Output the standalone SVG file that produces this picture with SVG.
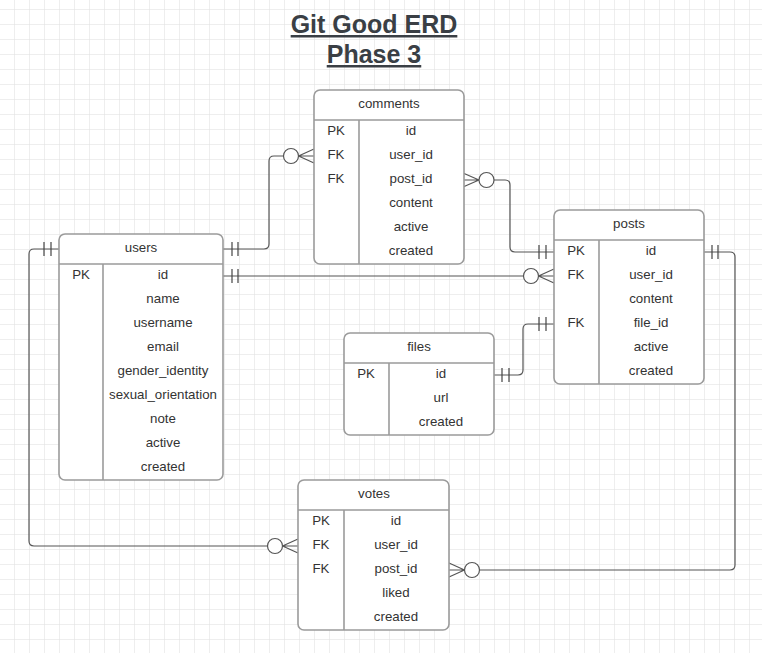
<svg xmlns="http://www.w3.org/2000/svg" width="762" height="653" viewBox="0 0 762 653">
<style>
.tb{fill:#fff;stroke:#9b9b9b;stroke-width:1.6}
.dv{stroke:#9b9b9b;stroke-width:1.6;fill:none}
.t{font-family:"Liberation Sans",Arial,sans-serif;font-size:13.3px;fill:#333;text-anchor:middle;dominant-baseline:central}
.ttl{font-family:"Liberation Sans",Arial,sans-serif;font-size:25px;font-weight:bold;fill:#3a3f45;text-anchor:middle;text-decoration:underline}
.c{fill:none;stroke:#555;stroke-width:1.2}
.o{fill:#fff;stroke:#555;stroke-width:1.2}
.b{stroke:#444;stroke-width:1.2}
</style>
<defs>
<pattern id="grid" x="14" y="9" width="15" height="15" patternUnits="userSpaceOnUse">
<path d="M0,0 H15 M0,0 V15" fill="none" stroke="#dedede" stroke-width="1"/>
</pattern>
</defs>
<rect width="762" height="653" fill="#fff"/>
<rect width="762" height="653" fill="url(#grid)"/>

<g id="title">
<text class="ttl" x="374" y="33">Git Good ERD</text>
<text class="ttl" x="374" y="63">Phase 3</text>
</g>

<g id="connectors">
<!-- users -> comments -->
<path class="c" d="M223,249 H264 Q269,249 269,244 V161 Q269,156 274,156 H283.5"/>
<line class="b" x1="232" y1="242" x2="232" y2="256"/><line class="b" x1="238" y1="242" x2="238" y2="256"/>
<circle class="o" cx="291" cy="156" r="7.5"/>
<path class="c" d="M298.5,156 H314 M298.5,156 L314,149 M298.5,156 L314,163"/>
<!-- users -> posts -->
<path class="c" d="M223,276 H523.5"/>
<line class="b" x1="232" y1="269" x2="232" y2="283"/><line class="b" x1="238" y1="269" x2="238" y2="283"/>
<circle class="o" cx="531" cy="276" r="7.5"/>
<path class="c" d="M538.5,276 H554 M538.5,276 L554,269 M538.5,276 L554,283"/>
<!-- comments -> posts -->
<path class="c" d="M463,180 H479 M479,180 L463,173 M479,180 L463,187"/>
<circle class="o" cx="486.5" cy="180" r="7.5"/>
<path class="c" d="M494,180 H505 Q510,180 510,185 V247 Q510,252 515,252 H554"/>
<line class="b" x1="539" y1="245" x2="539" y2="259"/><line class="b" x1="546" y1="245" x2="546" y2="259"/>
<!-- files -> posts -->
<path class="c" d="M494,375 H518 Q523,375 523,370 V329 Q523,324 528,324 H554"/>
<line class="b" x1="502" y1="368" x2="502" y2="382"/><line class="b" x1="509" y1="368" x2="509" y2="382"/>
<line class="b" x1="539" y1="317" x2="539" y2="331"/><line class="b" x1="546" y1="317" x2="546" y2="331"/>
<!-- posts -> votes -->
<path class="c" d="M703,252 H730 Q735,252 735,257 V565 Q735,570 730,570 H479.5"/>
<line class="b" x1="712" y1="245" x2="712" y2="259"/><line class="b" x1="718" y1="245" x2="718" y2="259"/>
<circle class="o" cx="472" cy="570" r="7.5"/>
<path class="c" d="M464.5,570 H449 M464.5,570 L449,563 M464.5,570 L449,577"/>
<!-- users -> votes -->
<path class="c" d="M59,249 H34 Q29,249 29,254 V541 Q29,546 34,546 H267.5"/>
<line class="b" x1="44" y1="242" x2="44" y2="256"/><line class="b" x1="51" y1="242" x2="51" y2="256"/>
<circle class="o" cx="275" cy="546" r="7.5"/>
<path class="c" d="M282.5,546 H298 M282.5,546 L298,539 M282.5,546 L298,553"/>
</g>

<g id="users">
<rect class="tb" x="59" y="234" width="164" height="246" rx="6"/>
<path class="dv" d="M59,264 H223 M103,264 V480"/>
<text class="t" x="141" y="247">users</text>
<text class="t" x="81" y="274">PK</text>
<text class="t" x="163" y="274">id</text>
<text class="t" x="163" y="298">name</text>
<text class="t" x="163" y="322">username</text>
<text class="t" x="163" y="346">email</text>
<text class="t" x="163" y="370">gender_identity</text>
<text class="t" x="163" y="394">sexual_orientation</text>
<text class="t" x="163" y="418">note</text>
<text class="t" x="163" y="442">active</text>
<text class="t" x="163" y="466">created</text>
</g>

<g id="comments">
<rect class="tb" x="314" y="90" width="150" height="174" rx="6"/>
<path class="dv" d="M314,120 H464 M359,120 V264"/>
<text class="t" x="389" y="103">comments</text>
<text class="t" x="336" y="130">PK</text>
<text class="t" x="336" y="154">FK</text>
<text class="t" x="336" y="178">FK</text>
<text class="t" x="411" y="130">id</text>
<text class="t" x="411" y="154">user_id</text>
<text class="t" x="411" y="178">post_id</text>
<text class="t" x="411" y="202">content</text>
<text class="t" x="411" y="226">active</text>
<text class="t" x="411" y="250">created</text>
</g>

<g id="posts">
<rect class="tb" x="554" y="210" width="150" height="174" rx="6"/>
<path class="dv" d="M554,240 H704 M599,240 V384"/>
<text class="t" x="629" y="223">posts</text>
<text class="t" x="576" y="250">PK</text>
<text class="t" x="576" y="274">FK</text>
<text class="t" x="576" y="322">FK</text>
<text class="t" x="651" y="250">id</text>
<text class="t" x="651" y="274">user_id</text>
<text class="t" x="651" y="298">content</text>
<text class="t" x="651" y="322">file_id</text>
<text class="t" x="651" y="346">active</text>
<text class="t" x="651" y="370">created</text>
</g>

<g id="files">
<rect class="tb" x="344" y="333" width="150" height="102" rx="6"/>
<path class="dv" d="M344,363 H494 M389,363 V435"/>
<text class="t" x="419" y="346">files</text>
<text class="t" x="366" y="373">PK</text>
<text class="t" x="441" y="373">id</text>
<text class="t" x="441" y="397">url</text>
<text class="t" x="441" y="421">created</text>
</g>

<g id="votes">
<rect class="tb" x="298" y="480" width="151" height="150" rx="6"/>
<path class="dv" d="M298,510 H449 M344,510 V630"/>
<text class="t" x="374" y="493">votes</text>
<text class="t" x="321" y="520">PK</text>
<text class="t" x="321" y="544">FK</text>
<text class="t" x="321" y="568">FK</text>
<text class="t" x="396" y="520">id</text>
<text class="t" x="396" y="544">user_id</text>
<text class="t" x="396" y="568">post_id</text>
<text class="t" x="396" y="592">liked</text>
<text class="t" x="396" y="616">created</text>
</g>
</svg>
